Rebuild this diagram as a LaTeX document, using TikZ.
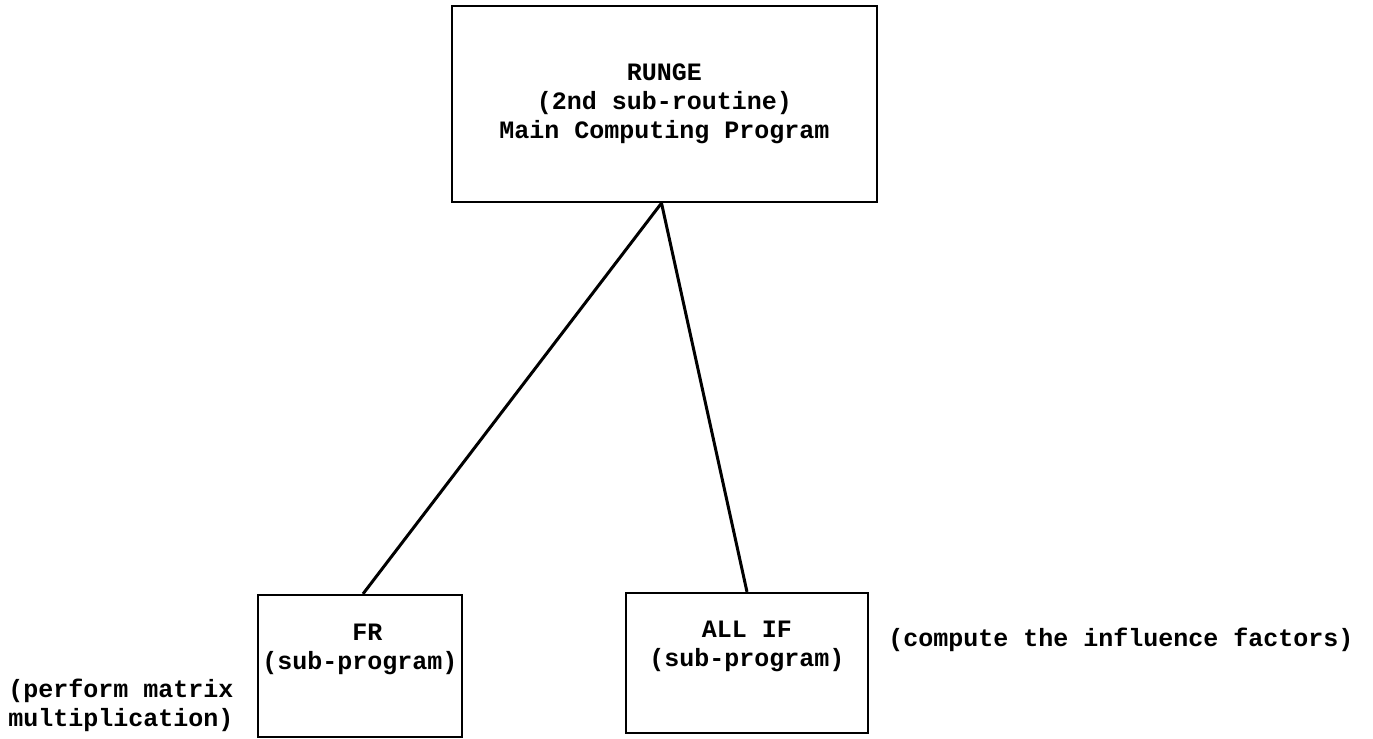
\documentclass[tikz,border=0pt]{standalone}
\usepackage{fontspec}
\setmonofont{Liberation Mono}
\begin{document}
\begin{tikzpicture}[x=0.5pt,y=0.5pt,yscale=-1,
  typed/.style={font=\ttfamily\bfseries\fontsize{12.5}{14.5}\selectfont},
  box/.style={typed,draw,line width=1.1pt,inner sep=0pt,align=center},
  note/.style={typed,inner sep=0pt,align=left},
  link/.style={line width=1.5pt}]
\useasboundingbox (0,0) rectangle (1373,739);
%Shape: Rectangle (main program)
\node[box,minimum width=212.5pt,minimum height=98pt] (runge) at (664.5,104) {RUNGE\\(2nd sub-routine)\\Main Computing Program};
%Shape: Rectangle (sub-programs)
\node[box,minimum width=102pt,minimum height=71pt] (fr) at (360,666) {~FR\\(sub-program)\\\strut};
\node[box,minimum width=121pt,minimum height=70pt] (allif) at (747,663) {ALL IF\\(sub-program)\\\strut};
%Straight Lines
\draw[link] ([xshift=-1.5pt]runge.south) -- ([xshift=1.5pt]fr.north);
\draw[link] ([xshift=-1.5pt]runge.south) -- (allif.north);
%Notes
\node[note,anchor=west] (mult) at (8,705) {(perform matrix\\multiplication)};
\node[note,anchor=west] (infl) at (888,640) {(compute the influence factors)};
\end{tikzpicture}
\end{document}
